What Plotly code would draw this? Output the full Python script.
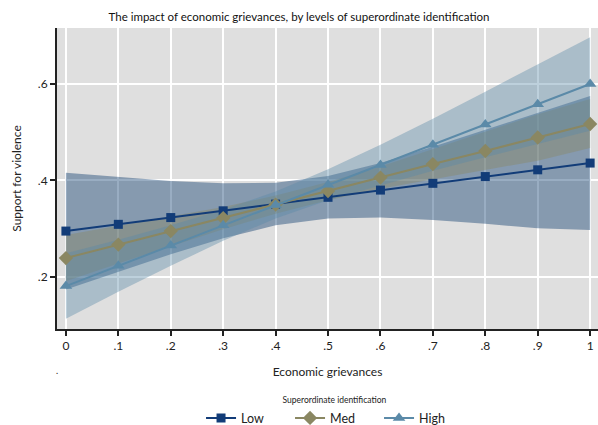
import plotly.graph_objects as go

x = [0, 0.1, 0.2, 0.3, 0.4, 0.5, 0.6, 0.7, 0.8, 0.9, 1.0]
x_ticks = [0, 0.1, 0.2, 0.3, 0.4, 0.5, 0.6, 0.7, 0.8, 0.9, 1.0]
x_tick_labels = ["0", ".1", ".2", ".3", ".4", ".5", ".6", ".7", ".8", ".9", "1"]
y_ticks = [0.2, 0.4, 0.6]
y_tick_labels = [".2", ".4", ".6"]

low = [0.295, 0.309, 0.323, 0.337, 0.351, 0.365, 0.380, 0.394, 0.408, 0.422, 0.436]
low_hi = [0.416, 0.407, 0.399, 0.394, 0.395, 0.409, 0.436, 0.470, 0.505, 0.541, 0.575]
low_lo = [0.174, 0.211, 0.247, 0.280, 0.307, 0.321, 0.323, 0.318, 0.310, 0.301, 0.297]

med = [0.239, 0.267, 0.295, 0.322, 0.350, 0.378, 0.406, 0.434, 0.461, 0.489, 0.517]
med_hi = [0.287, 0.306, 0.326, 0.345, 0.369, 0.397, 0.429, 0.465, 0.500, 0.537, 0.569]
med_lo = [0.191, 0.228, 0.264, 0.299, 0.331, 0.359, 0.383, 0.403, 0.422, 0.441, 0.467]

high = [0.181, 0.223, 0.265, 0.307, 0.349, 0.391, 0.432, 0.474, 0.516, 0.558, 0.600]
high_hi = [0.249, 0.277, 0.307, 0.339, 0.377, 0.423, 0.474, 0.528, 0.584, 0.640, 0.697]
high_lo = [0.113, 0.169, 0.223, 0.275, 0.321, 0.359, 0.390, 0.420, 0.448, 0.476, 0.503]

series = [
    ("Low", low, low_lo, low_hi, "#123c78", "rgba(0,51,102,0.40)", "square", 9),
    ("Med", med, med_lo, med_hi, "#8a8762", "rgba(138,135,98,0.40)", "diamond", 11),
    ("High", high, high_lo, high_hi, "#5b8aa8", "rgba(90,138,168,0.40)", "triangle-up", 11),
]

FONT = "Lato"
fig = go.Figure()

for name, y, lo, hi, lc, fc, sym, ms in series:
    fig.add_trace(go.Scatter(x=x + x[::-1], y=hi + lo[::-1], fill="toself",
                             fillcolor=fc, line=dict(width=0), mode="lines",
                             hoverinfo="skip", showlegend=False))

for name, y, lo, hi, lc, fc, sym, ms in series:
    fig.add_trace(go.Scatter(x=x, y=y, mode="lines+markers", name=name,
                             line=dict(color=lc, width=2),
                             marker=dict(symbol=sym, size=ms, color=lc)))

fig.update_layout(
    width=598, height=425,
    margin=dict(l=57, r=0, t=28, b=96, autoexpand=False),
    paper_bgcolor="white",
    plot_bgcolor="#dfdfdf",
    font=dict(family=FONT, size=12, color="#222222"),
    title=dict(text="The impact of economic grievances, by levels of superordinate identification",
               x=0.5, xref="container", y=0.96, yref="container", yanchor="middle",
               font=dict(family=FONT, size=11.5, color="#111111")),
    xaxis=dict(range=[-0.017, 1.015], tickvals=x_ticks, ticktext=x_tick_labels,
               showgrid=True, gridcolor="white", gridwidth=2, zeroline=False,
               showline=True, linecolor="#222222", linewidth=2,
               ticks="outside", ticklen=5, tickcolor="#222222", tickwidth=1.5,
               title=dict(text="Economic grievances", font=dict(size=12), standoff=15)),
    yaxis=dict(range=[0.092, 0.716], tickvals=y_ticks, ticktext=y_tick_labels,
               showgrid=True, gridcolor="white", gridwidth=2, zeroline=False,
               showline=True, linecolor="#222222", linewidth=2,
               ticks="outside", ticklen=5, tickcolor="#222222", tickwidth=1.5,
               title=dict(text="Support for violence", font=dict(size=12), standoff=14)),
    legend=dict(orientation="h", x=0.513, xanchor="center", y=-0.21, yanchor="top",
                font=dict(size=12.5), bgcolor="rgba(0,0,0,0)",
                title=dict(text="Superordinate identification", side="top center",
                           font=dict(size=8.5)),
                itemwidth=30, entrywidth=44, entrywidthmode="pixels",
                traceorder="normal"),
    annotations=[dict(text=".", x=0, y=-0.112, xref="paper", yref="paper",
                      xanchor="center", yanchor="top", showarrow=False,
                      font=dict(size=9))],
)

fig.write_html("out.html")
